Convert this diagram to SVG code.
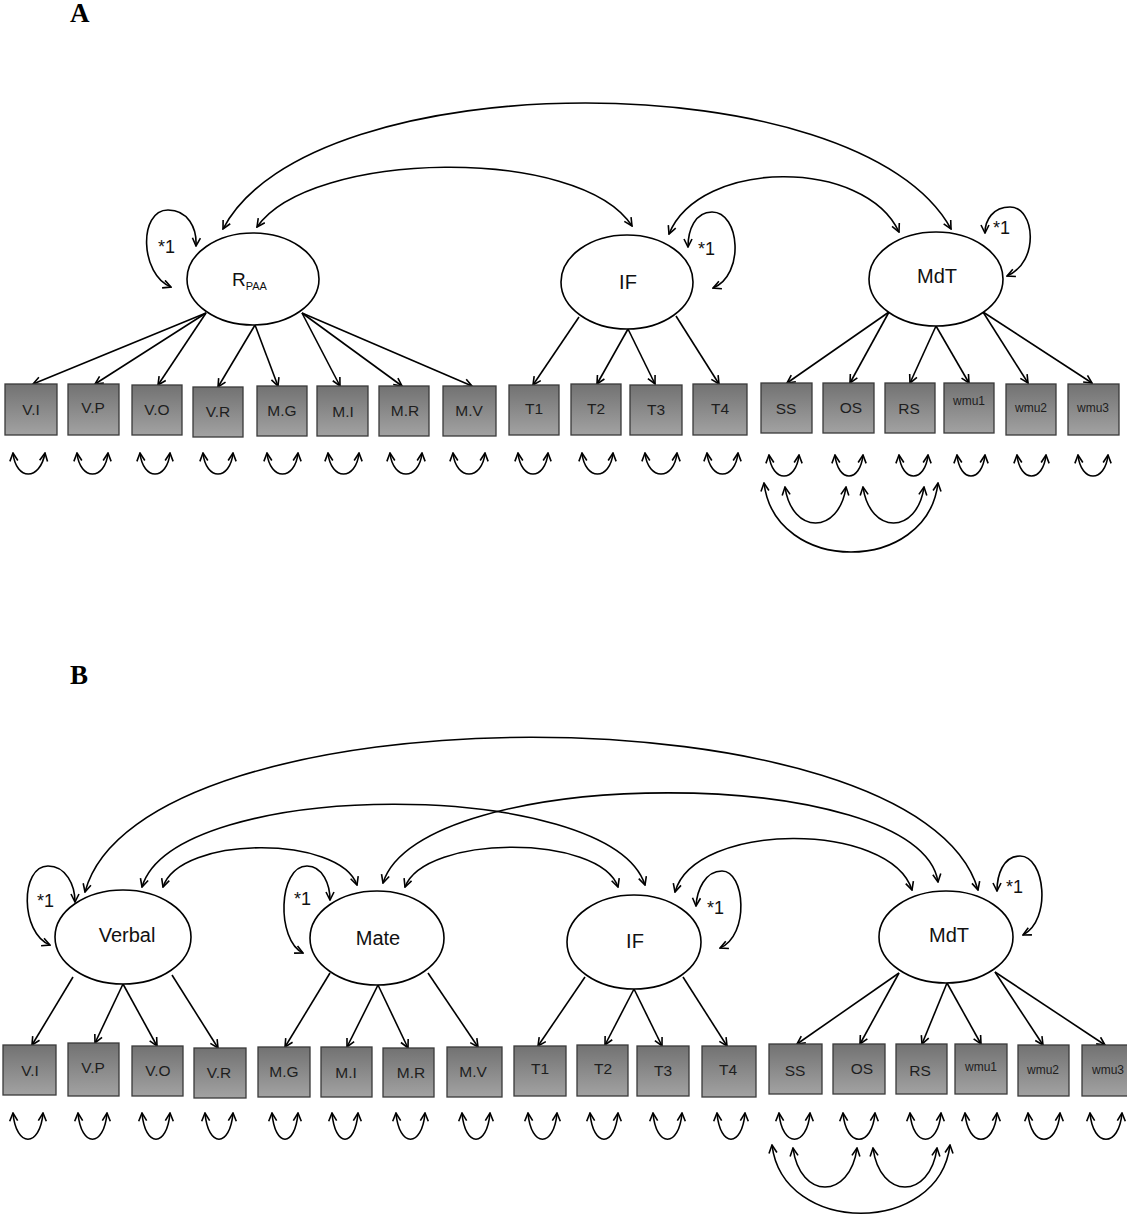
<svg xmlns="http://www.w3.org/2000/svg" width="1127" height="1226" viewBox="0 0 1127 1226">
<style>
.ell{fill:#fff;stroke:#000;stroke-width:1.6}
.box{fill:url(#g);stroke:#3a3a3a;stroke-width:1.3}
.bt{font-family:"Liberation Sans",Arial,sans-serif;font-size:15.5px;fill:#1e1e1e;text-anchor:middle}
.bs{font-family:"Liberation Sans",Arial,sans-serif;font-size:12px;fill:#1e1e1e;text-anchor:middle}
.lt{font-family:"Liberation Sans",Arial,sans-serif;font-size:20px;fill:#111;text-anchor:middle}
.st{font-family:"Liberation Sans",Arial,sans-serif;font-size:18px;fill:#111}
.pl{font-family:"Liberation Serif","Times New Roman",serif;font-size:27px;font-weight:bold;fill:#000}
.c path,.c line{fill:none;stroke:#000;stroke-width:1.6;marker-end:url(#ah)}
.c .d{marker-start:url(#ah)}
</style>
<defs>
<linearGradient id="g" x1="0" y1="0" x2="0" y2="1">
<stop offset="0" stop-color="#727272"/>
<stop offset="1" stop-color="#a2a2a2"/>
</linearGradient>
<marker id="ah" viewBox="0 0 10 10" refX="9" refY="5" markerWidth="10" markerHeight="10" markerUnits="userSpaceOnUse" orient="auto-start-reverse">
<path d="M1,1 L9,5 L1,9" fill="none" stroke="#000" stroke-width="1.6"/>
</marker>
</defs>
<rect width="1127" height="1226" fill="#fff"/>
<text class="pl" x="70" y="22">A</text>
<text class="pl" x="70" y="684">B</text>

<g id="connectors" class="c">
<path class="d" d="M223,229 C310,61 860,61 951,229"/>
<path class="d" d="M257,227 C310,150 580,145 632,226"/>
<path class="d" d="M669,234 C700,158 865,158 899,232"/>
<path class="d" d="M171,287 C140,275 138,210 168,210 C188,210 197,228 196,246"/>
<path class="d" d="M713,288 C745,275 740,212 712,212 C695,212 688,230 688,247"/>
<path class="d" d="M1007,276 C1040,262 1035,207 1010,207 C993,207 985,220 985,233"/>
<line x1="206" y1="313" x2="33" y2="384"/>
<line x1="206" y1="313" x2="95" y2="384"/>
<line x1="206" y1="313" x2="158" y2="385"/>
<line x1="255" y1="325" x2="218" y2="387"/>
<line x1="255" y1="325" x2="278" y2="386"/>
<line x1="302" y1="313" x2="340" y2="386"/>
<line x1="302" y1="313" x2="402" y2="386"/>
<line x1="302" y1="313" x2="472" y2="386"/>
<line x1="579" y1="317" x2="533" y2="385"/>
<line x1="628" y1="329" x2="597" y2="384"/>
<line x1="628" y1="329" x2="655" y2="384"/>
<line x1="676" y1="316" x2="719" y2="384"/>
<line x1="889" y1="312" x2="787" y2="383"/>
<line x1="889" y1="312" x2="850" y2="383"/>
<line x1="936" y1="326" x2="910" y2="383"/>
<line x1="936" y1="326" x2="969" y2="383"/>
<line x1="983" y1="312" x2="1028" y2="383"/>
<line x1="983" y1="312" x2="1092" y2="383"/>
<path class="d" d="M13,453 C16,481 40,481 45,453"/>
<path class="d" d="M77,453 C80,481 105,481 108,453"/>
<path class="d" d="M140,453 C143,481 167,481 170,453"/>
<path class="d" d="M203,453 C206,481 230,481 233,453"/>
<path class="d" d="M267,453 C270,481 295,481 298,453"/>
<path class="d" d="M328,453 C331,481 356,481 359,453"/>
<path class="d" d="M390,453 C393,481 419,481 422,453"/>
<path class="d" d="M453,453 C456,481 482,481 485,453"/>
<path class="d" d="M518,453 C521,481 545,481 548,453"/>
<path class="d" d="M582,453 C585,481 610,481 613,453"/>
<path class="d" d="M645,453 C648,481 674,481 677,453"/>
<path class="d" d="M707,453 C710,481 735,481 738,453"/>
<path class="d" d="M769,455 C772,483 796,483 799,455"/>
<path class="d" d="M835,455 C838,483 860,483 863,455"/>
<path class="d" d="M899,455 C902,483 925,483 928,455"/>
<path class="d" d="M957,455 C960,483 982,483 985,455"/>
<path class="d" d="M1017,455 C1020,483 1043,483 1046,455"/>
<path class="d" d="M1078,455 C1081,483 1105,483 1108,455"/>
<path class="d" d="M785,487 C792,535 839,535 846,487"/>
<path class="d" d="M863,487 C870,535 917,535 924,487"/>
<path class="d" d="M764,483 C775,575 927,575 938,483"/>

<path class="d" d="M85,892 C140,686 920,686 978,890"/>
<path class="d" d="M142,887 C175,777 610,777 645,885"/>
<path class="d" d="M163,887 C180,835 340,835 357,885"/>
<path class="d" d="M405,887 C425,834 600,834 618,887"/>
<path class="d" d="M383,883 C420,763 920,763 938,882"/>
<path class="d" d="M675,892 C695,821 890,821 912,890"/>
<path class="d" d="M50,945 C20,933 20,866 48,866 C66,866 75,885 75,902"/>
<path class="d" d="M303,953 C276,940 278,866 307,866 C323,866 330,885 330,900"/>
<path class="d" d="M720,948 C750,935 745,871 722,871 C705,871 697,890 696,906"/>
<path class="d" d="M1023,935 C1052,920 1045,856 1020,856 C1003,856 997,875 997,891"/>
<line x1="73" y1="977" x2="32" y2="1045"/>
<line x1="123" y1="984" x2="95" y2="1043"/>
<line x1="123" y1="984" x2="157" y2="1046"/>
<line x1="172" y1="975" x2="218" y2="1048"/>
<line x1="330" y1="973" x2="285" y2="1047"/>
<line x1="378" y1="985" x2="347" y2="1047"/>
<line x1="378" y1="985" x2="408" y2="1048"/>
<line x1="428" y1="973" x2="478" y2="1047"/>
<line x1="585" y1="977" x2="538" y2="1046"/>
<line x1="634" y1="989" x2="605" y2="1045"/>
<line x1="634" y1="989" x2="662" y2="1046"/>
<line x1="683" y1="977" x2="727" y2="1046"/>
<line x1="899" y1="973" x2="797" y2="1044"/>
<line x1="899" y1="973" x2="860" y2="1044"/>
<line x1="947" y1="983" x2="922" y2="1044"/>
<line x1="947" y1="983" x2="981" y2="1044"/>
<line x1="995" y1="972" x2="1043" y2="1045"/>
<line x1="995" y1="972" x2="1105" y2="1045"/>
<path class="d" d="M13,1113 C16,1148 40,1148 43,1113"/>
<path class="d" d="M78,1113 C81,1148 104,1148 107,1113"/>
<path class="d" d="M142,1113 C145,1148 167,1148 170,1113"/>
<path class="d" d="M205,1113 C208,1148 230,1148 233,1113"/>
<path class="d" d="M272,1113 C275,1148 295,1148 298,1113"/>
<path class="d" d="M332,1113 C335,1148 355,1148 358,1113"/>
<path class="d" d="M396,1113 C399,1148 422,1148 425,1113"/>
<path class="d" d="M462,1113 C465,1148 487,1148 490,1113"/>
<path class="d" d="M528,1113 C531,1148 554,1148 557,1113"/>
<path class="d" d="M590,1113 C593,1148 615,1148 618,1113"/>
<path class="d" d="M653,1113 C656,1148 679,1148 682,1113"/>
<path class="d" d="M717,1113 C720,1148 742,1148 745,1113"/>
<path class="d" d="M779,1113 C782,1148 807,1148 810,1113"/>
<path class="d" d="M843,1113 C846,1148 872,1148 875,1113"/>
<path class="d" d="M910,1113 C913,1148 938,1148 941,1113"/>
<path class="d" d="M965,1113 C968,1148 994,1148 997,1113"/>
<path class="d" d="M1028,1113 C1031,1148 1057,1148 1060,1113"/>
<path class="d" d="M1090,1113 C1093,1148 1119,1148 1122,1113"/>
<path class="d" d="M793,1148 C800,1200 850,1200 857,1148"/>
<path class="d" d="M873,1148 C880,1200 930,1200 937,1148"/>
<path class="d" d="M772,1145 C783,1236 939,1236 950,1145"/>
</g>

<g id="A_RPAA"><ellipse class="ell" cx="253" cy="279" rx="66" ry="46"/><text class="st" x="232" y="286" style="font-size:19px">R<tspan font-size="11" dy="4">PAA</tspan></text></g>
<g id="A_RPAA_var"><text class="st" x="158" y="253">*1</text></g>
<g id="A_IF"><ellipse class="ell" cx="627" cy="282" rx="66" ry="47"/><text class="lt" x="628" y="289">IF</text></g>
<g id="A_IF_var"><text class="st" x="698" y="255">*1</text></g>
<g id="A_MdT"><ellipse class="ell" cx="936" cy="279" rx="67" ry="47"/><text class="lt" x="937" y="283">MdT</text></g>
<g id="A_MdT_var"><text class="st" x="993" y="234">*1</text></g>

<g id="A_VI"><rect class="box" x="5" y="384" width="52" height="51"/><text class="bt" x="31" y="415">V.I</text></g>
<g id="A_VP"><rect class="box" x="68" y="384" width="51" height="51"/><text class="bt" x="93" y="413">V.P</text></g>
<g id="A_VO"><rect class="box" x="132" y="385" width="50" height="50"/><text class="bt" x="157" y="415">V.O</text></g>
<g id="A_VR"><rect class="box" x="193" y="387" width="50" height="50"/><text class="bt" x="218" y="417">V.R</text></g>
<g id="A_MG"><rect class="box" x="257" y="386" width="50" height="50"/><text class="bt" x="282" y="416">M.G</text></g>
<g id="A_MI"><rect class="box" x="317" y="386" width="51" height="50"/><text class="bt" x="343" y="417">M.I</text></g>
<g id="A_MR"><rect class="box" x="379" y="386" width="50" height="50"/><text class="bt" x="405" y="416">M.R</text></g>
<g id="A_MV"><rect class="box" x="443" y="386" width="53" height="50"/><text class="bt" x="469" y="416">M.V</text></g>
<g id="A_T1"><rect class="box" x="509" y="385" width="50" height="50"/><text class="bt" x="534" y="414">T1</text></g>
<g id="A_T2"><rect class="box" x="571" y="384" width="50" height="51"/><text class="bt" x="596" y="414">T2</text></g>
<g id="A_T3"><rect class="box" x="630" y="385" width="52" height="50"/><text class="bt" x="656" y="415">T3</text></g>
<g id="A_T4"><rect class="box" x="693" y="384" width="54" height="51"/><text class="bt" x="720" y="414">T4</text></g>
<g id="A_SS"><rect class="box" x="761" y="383" width="51" height="50"/><text class="bt" x="786" y="414">SS</text></g>
<g id="A_OS"><rect class="box" x="823" y="383" width="51" height="50"/><text class="bt" x="851" y="413">OS</text></g>
<g id="A_RS"><rect class="box" x="885" y="383" width="50" height="50"/><text class="bt" x="909" y="414">RS</text></g>
<g id="A_wmu1"><rect class="box" x="944" y="383" width="50" height="50"/><text class="bs" x="969" y="405">wmu1</text></g>
<g id="A_wmu2"><rect class="box" x="1006" y="384" width="50" height="51"/><text class="bs" x="1031" y="412">wmu2</text></g>
<g id="A_wmu3"><rect class="box" x="1068" y="384" width="51" height="51"/><text class="bs" x="1093" y="412">wmu3</text></g>

<g id="B_Verbal"><ellipse class="ell" cx="123" cy="937" rx="68" ry="47"/><text class="lt" x="127" y="942">Verbal</text></g>
<g id="B_Verbal_var"><text class="st" x="37" y="907">*1</text></g>
<g id="B_Mate"><ellipse class="ell" cx="377" cy="938" rx="67" ry="47"/><text class="lt" x="378" y="945">Mate</text></g>
<g id="B_Mate_var"><text class="st" x="294" y="905">*1</text></g>
<g id="B_IF"><ellipse class="ell" cx="634" cy="942" rx="67" ry="47"/><text class="lt" x="635" y="948">IF</text></g>
<g id="B_IF_var"><text class="st" x="707" y="914">*1</text></g>
<g id="B_MdT"><ellipse class="ell" cx="946" cy="937" rx="67" ry="46"/><text class="lt" x="949" y="942">MdT</text></g>
<g id="B_MdT_var"><text class="st" x="1006" y="893">*1</text></g>

<g id="B_VI"><rect class="box" x="3" y="1045" width="53" height="50"/><text class="bt" x="30" y="1076">V.I</text></g>
<g id="B_VP"><rect class="box" x="68" y="1043" width="51" height="53"/><text class="bt" x="93" y="1073">V.P</text></g>
<g id="B_VO"><rect class="box" x="132" y="1046" width="51" height="50"/><text class="bt" x="158" y="1076">V.O</text></g>
<g id="B_VR"><rect class="box" x="194" y="1048" width="52" height="50"/><text class="bt" x="219" y="1078">V.R</text></g>
<g id="B_MG"><rect class="box" x="258" y="1047" width="52" height="50"/><text class="bt" x="284" y="1077">M.G</text></g>
<g id="B_MI"><rect class="box" x="321" y="1047" width="51" height="50"/><text class="bt" x="346" y="1078">M.I</text></g>
<g id="B_MR"><rect class="box" x="383" y="1048" width="51" height="49"/><text class="bt" x="411" y="1078">M.R</text></g>
<g id="B_MV"><rect class="box" x="447" y="1047" width="55" height="50"/><text class="bt" x="473" y="1077">M.V</text></g>
<g id="B_T1"><rect class="box" x="514" y="1046" width="52" height="50"/><text class="bt" x="540" y="1074">T1</text></g>
<g id="B_T2"><rect class="box" x="577" y="1045" width="51" height="51"/><text class="bt" x="603" y="1074">T2</text></g>
<g id="B_T3"><rect class="box" x="637" y="1046" width="52" height="50"/><text class="bt" x="663" y="1076">T3</text></g>
<g id="B_T4"><rect class="box" x="702" y="1046" width="54" height="51"/><text class="bt" x="728" y="1075">T4</text></g>
<g id="B_SS"><rect class="box" x="769" y="1044" width="53" height="50"/><text class="bt" x="795" y="1076">SS</text></g>
<g id="B_OS"><rect class="box" x="833" y="1044" width="52" height="50"/><text class="bt" x="862" y="1074">OS</text></g>
<g id="B_RS"><rect class="box" x="896" y="1044" width="51" height="50"/><text class="bt" x="920" y="1076">RS</text></g>
<g id="B_wmu1"><rect class="box" x="955" y="1044" width="52" height="50"/><text class="bs" x="981" y="1071">wmu1</text></g>
<g id="B_wmu2"><rect class="box" x="1018" y="1045" width="51" height="51"/><text class="bs" x="1043" y="1074">wmu2</text></g>
<g id="B_wmu3"><rect class="box" x="1082" y="1045" width="52" height="51"/><text class="bs" x="1108" y="1074">wmu3</text></g>
</svg>
